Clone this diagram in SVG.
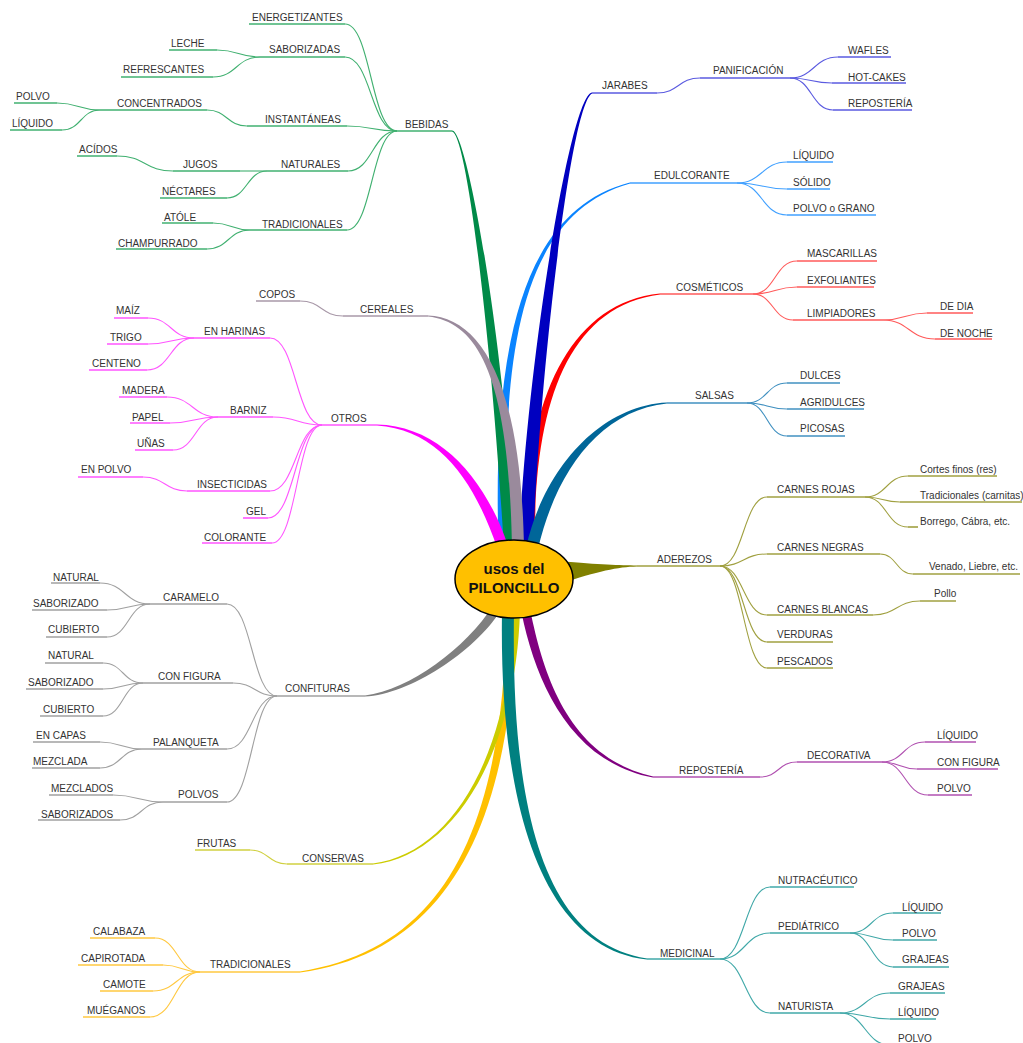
<svg xmlns="http://www.w3.org/2000/svg" width="1023" height="1043" viewBox="0 0 1023 1043">
<style>
.t{font-family:"Liberation Sans",Arial,sans-serif;font-size:10px;fill:#333}
.ul{fill:none;stroke-width:1.6}
.cn path{fill:none;stroke-width:1.1}
.beb{stroke:#40b070}.cer{stroke:#a898a8}.otr{stroke:#ff55ff}.cnf{stroke:#a0a0a0}.cns{stroke:#d0d040}.tra{stroke:#ffc840}
.jar{stroke:#5a5ae0}.edu{stroke:#40a0ff}.cos{stroke:#ff5a5a}.sal{stroke:#4090c0}.ade{stroke:#a0a040}.rep{stroke:#b050b0}.med{stroke:#40a8a8}
.ct{font-family:"Liberation Sans",Arial,sans-serif;font-size:15px;font-weight:bold;fill:#111;text-anchor:middle}
</style>
<rect width="1023" height="1043" fill="#fff"/>

<g id="trunks">
<path fill="#0a84ff" d="M507.5 548 C502.5 380 510.5 216.7 630.2 183.6 L629.8 182.4 C509.5 213.3 493.5 380 498.5 548 Z"/>
<path fill="#ff0000" d="M535 548 C533 410 565.2 306.8 660.1 294.6 L659.9 293.4 C564.8 303.2 523 410 525 548 Z"/>
<path fill="#008a48" d="M516 547.5 C502 319.5 466 128.6 452 130.4 L452 131.6 C466 133.4 490 320.5 504 548.5 Z"/>
<path fill="#0000c0" d="M533 548.3 C539 380.3 570.8 102.5 592.2 93.6 L591.8 92.4 C569.2 97.5 525 379.7 519 547.7 Z"/>
<path fill="#9a8a9c" d="M524 547.9 C521 379.9 480.2 317.6 428 315.4 L428 316.6 C479.8 322.4 509 380.1 512 548.1 Z"/>
<path fill="#ff00ff" d="M508.2 546.2 C485.2 478.2 440.1 425.8 377 424.4 L377 425.6 C439.9 430.2 474.8 481.8 497.8 549.8 Z"/>
<path fill="#006699" d="M537.9 549.4 C555.9 471.4 600.2 410.4 667 403.6 L667 402.4 C599.8 405.6 544.2 468.6 526.2 546.6 Z"/>
<path fill="#808000" d="M560 561 C600 565 620 565 637 565.5 L637 566.5 C618 567 598 571 560 584 Z"/>
<path fill="#808080" d="M493.2 605.6 C466.2 647.6 409.8 690.2 365 695.4 L365 696.6 C410.2 693.8 473.8 652.4 500.8 610.4 Z"/>
<path fill="#ffc000" d="M506.5 612 C503.5 820 449.7 948.2 299.9 971.4 L300.1 972.6 C450.3 951.8 512.5 820 515.5 612 Z"/>
<path fill="#cccc00" d="M514 611.9 C509 759.9 449.9 853.8 372.9 863.5 L373.1 864.5 C450.1 856.2 515 760.1 520 612.1 Z"/>
<path fill="#008080" d="M502 611.9 C499 799.9 539.7 947.4 646.9 959.6 L647.1 958.4 C540.3 942.6 511 800.1 514 612.1 Z"/>
<path fill="#800080" d="M521.6 612.9 C535.6 680.9 569.6 761.8 652.9 777.6 L653.1 776.4 C570.4 758.2 544.4 679.1 530.4 611.1 Z"/>
</g>

<g id="connectors" class="cn">
<g class="beb">
<path d="M345 24 C371 24 371 131 397 131"/><path d="M345 57 C371 57 371 131 397 131"/><path d="M347 126 C372 126 372 131 397 131"/>
<path d="M348 171 C372.5 171 372.5 131 397 131"/><path d="M347 230 C372 230 372 131 397 131"/>
<path d="M217 50 C238.5 50 238.5 57 260 57"/><path d="M213 77 C236.5 77 236.5 57 260 57"/>
<path d="M207 110 C227 110 227 126 247 126"/><path d="M57 103 C78.5 103 78.5 110 100 110"/><path d="M62 130 C81 130 81 110 100 110"/>
<path d="M117 156 C145 156 145 171 173 171"/><path d="M240 171 L267 171"/><path d="M227 198 C247 198 247 171 267 171"/>
<path d="M213 223 C231.5 223 231.5 230 250 230"/><path d="M207 249 C228.5 249 228.5 230 250 230"/>
</g>
<g class="cer"><path d="M300 301 C321.5 301 321.5 316 343 316"/></g>
<g class="otr">
<path d="M270 338 C296 338 296 425 322 425"/><path d="M148 318 C171 318 171 338 194 338"/><path d="M148 344 C171 344 171 338 194 338"/>
<path d="M147 370 C170.5 370 170.5 338 194 338"/><path d="M273 417 C297.5 417 297.5 425 322 425"/><path d="M167 397 C192.5 397 192.5 417 218 417"/>
<path d="M170 423 C194 423 194 417 218 417"/><path d="M173 450 C195.5 450 195.5 417 218 417"/><path d="M270 491 C296 491 296 425 322 425"/>
<path d="M143 477 C165 477 165 491 187 491"/><path d="M268 518 C295 518 295 425 322 425"/><path d="M272 543 C297 543 297 425 322 425"/>
</g>
<g class="cnf">
<path d="M227 604 C252 604 252 696 277 696"/><path d="M100 583 C125 583 125 604 150 604"/><path d="M107 610 C128.5 610 128.5 604 150 604"/>
<path d="M107 637 C128.5 637 128.5 604 150 604"/><path d="M233 683 C255 683 255 696 277 696"/><path d="M103 663 C123 663 123 683 143 683"/>
<path d="M103 689 C123 689 123 683 143 683"/><path d="M103 716 C123 716 123 683 143 683"/><path d="M227 749 C252 749 252 696 277 696"/>
<path d="M100 742 C121 742 121 749 142 749"/><path d="M100 768 C121 768 121 749 142 749"/><path d="M227 802 C252 802 252 696 277 696"/>
<path d="M113 795 C138 795 138 802 163 802"/><path d="M120 820 C141.5 820 141.5 802 163 802"/>
</g>
<g class="cns"><path d="M250 850 C268.5 850 268.5 864 287 864"/></g>
<g class="tra">
<path d="M155 938 C177.5 938 177.5 972 200 972"/><path d="M163 965 C181.5 965 181.5 972 200 972"/>
<path d="M153 991 C176.5 991 176.5 972 200 972"/><path d="M150 1017 C175 1017 175 972 200 972"/>
</g>
<g class="jar">
<path d="M657 93 C678.5 93 678.5 78 700 78"/><path d="M790 78 C814 78 814 57 838 57"/>
<path d="M790 78 C811 78 811 83 832 83"/><path d="M790 78 C811.5 78 811.5 110 833 110"/>
</g>
<g class="edu">
<path d="M737 183 C762 183 762 162 787 162"/><path d="M737 183 C762 183 762 189 787 189"/><path d="M737 183 C762 183 762 215 787 215"/>
</g>
<g class="cos">
<path d="M753 294 C775 294 775 261 797 261"/><path d="M753 294 C775 294 775 287 797 287"/><path d="M753 294 C773 294 773 320 793 320"/>
<path d="M883 320 C905 320 905 313 927 313"/><path d="M883 320 C909 320 909 339 935 339"/>
</g>
<g class="sal">
<path d="M747 403 C767 403 767 383 787 383"/><path d="M747 403 C767 403 767 409 787 409"/><path d="M747 403 C767 403 767 436 787 436"/>
</g>
<g class="ade">
<path d="M720 566 C743.5 566 743.5 497 767 497"/><path d="M720 566 C743.5 566 743.5 554 767 554"/><path d="M720 566 C743.5 566 743.5 615 767 615"/>
<path d="M720 566 C743.5 566 743.5 642 767 642"/><path d="M720 566 C743.5 566 743.5 668 767 668"/>
<path d="M865 497 C886.5 497 886.5 476 908 476"/><path d="M865 497 C882.5 497 882.5 502 900 502"/><path d="M865 497 C886.5 497 886.5 527 908 527"/>
<path d="M880 554 C896.5 554 896.5 574 913 574"/><path d="M873 615 C896.5 615 896.5 601 920 601"/>
</g>
<g class="rep">
<path d="M760 777 C778.5 777 778.5 762 797 762"/><path d="M882 762 C903.5 762 903.5 742 925 742"/>
<path d="M882 762 C899.5 762 899.5 769 917 769"/><path d="M882 762 C905 762 905 795 928 795"/>
</g>
<g class="med">
<path d="M720 959 C745 959 745 887 770 887"/><path d="M720 959 C745 959 745 933 770 933"/><path d="M720 959 C745 959 745 1013 770 1013"/>
<path d="M850 933 C871.5 933 871.5 913 893 913"/><path d="M850 933 C871.5 933 871.5 940 893 940"/><path d="M850 933 C871.5 933 871.5 967 893 967"/>
<path d="M840 1013 C865 1013 865 993 890 993"/><path d="M840 1013 C865 1013 865 1019 890 1019"/><path d="M840 1013 C865 1013 865 1045 890 1045"/>
</g>
</g>

<g id="nodes">
<g id="center"><ellipse cx="514" cy="579" rx="59" ry="39" fill="#ffc000" stroke="#000" stroke-width="1.5"/>
<text class="ct" x="514" y="574">usos del</text><text class="ct" x="514" y="593">PILONCILLO</text></g>

<g id="n-bebidas"><path class="ul beb" d="M397 131 H452"/><text class="t" x="405" y="128">BEBIDAS</text></g>
<g id="n-energetizantes"><path class="ul beb" d="M249 24 H345"/><text class="t" x="252" y="21">ENERGETIZANTES</text></g>
<g id="n-saborizadas"><path class="ul beb" d="M260 57 H345"/><text class="t" x="269" y="53">SABORIZADAS</text></g>
<g id="n-leche"><path class="ul beb" d="M169 50 H217"/><text class="t" x="171" y="47">LECHE</text></g>
<g id="n-refrescantes"><path class="ul beb" d="M121 77 H213"/><text class="t" x="123" y="73">REFRESCANTES</text></g>
<g id="n-instantaneas"><path class="ul beb" d="M247 126 H347"/><text class="t" x="265" y="123">INSTANTÁNEAS</text></g>
<g id="n-concentrados"><path class="ul beb" d="M100 110 H207"/><text class="t" x="117" y="107">CONCENTRADOS</text></g>
<g id="n-polvo1"><path class="ul beb" d="M14 103 H57"/><text class="t" x="16" y="100">POLVO</text></g>
<g id="n-liquido1"><path class="ul beb" d="M10 130 H62"/><text class="t" x="12" y="127">LÍQUIDO</text></g>
<g id="n-naturales"><path class="ul beb" d="M267 171 H348"/><text class="t" x="281" y="168">NATURALES</text></g>
<g id="n-jugos"><path class="ul beb" d="M173 171 H240"/><text class="t" x="183" y="168">JUGOS</text></g>
<g id="n-acidos"><path class="ul beb" d="M77 156 H117"/><text class="t" x="79" y="153">ACÍDOS</text></g>
<g id="n-nectares"><path class="ul beb" d="M160 198 H227"/><text class="t" x="162" y="195">NÉCTARES</text></g>
<g id="n-tradicionales1"><path class="ul beb" d="M250 230 H347"/><text class="t" x="262" y="228">TRADICIONALES</text></g>
<g id="n-atole"><path class="ul beb" d="M162 223 H213"/><text class="t" x="164" y="221">ATÓLE</text></g>
<g id="n-champurrado"><path class="ul beb" d="M116 249 H207"/><text class="t" x="118" y="247">CHAMPURRADO</text></g>

<g id="n-cereales"><path class="ul cer" d="M343 316 H428"/><text class="t" x="360" y="313">CEREALES</text></g>
<g id="n-copos"><path class="ul cer" d="M256 301 H300"/><text class="t" x="259" y="298">COPOS</text></g>

<g id="n-otros"><path class="ul otr" d="M322 425 H377"/><text class="t" x="331" y="422">OTROS</text></g>
<g id="n-enharinas"><path class="ul otr" d="M194 338 H270"/><text class="t" x="204" y="335">EN HARINAS</text></g>
<g id="n-maiz"><path class="ul otr" d="M114 318 H148"/><text class="t" x="116" y="314">MAÍZ</text></g>
<g id="n-trigo"><path class="ul otr" d="M107 344 H148"/><text class="t" x="110" y="341">TRIGO</text></g>
<g id="n-centeno"><path class="ul otr" d="M89 370 H147"/><text class="t" x="92" y="367">CENTENO</text></g>
<g id="n-barniz"><path class="ul otr" d="M218 417 H273"/><text class="t" x="230" y="414">BARNIZ</text></g>
<g id="n-madera"><path class="ul otr" d="M119 397 H167"/><text class="t" x="122" y="394">MADERA</text></g>
<g id="n-papel"><path class="ul otr" d="M130 423 H170"/><text class="t" x="132" y="421">PAPEL</text></g>
<g id="n-unas"><path class="ul otr" d="M135 450 H173"/><text class="t" x="137" y="447">UÑAS</text></g>
<g id="n-insecticidas"><path class="ul otr" d="M187 491 H270"/><text class="t" x="197" y="488">INSECTICIDAS</text></g>
<g id="n-enpolvo"><path class="ul otr" d="M78 477 H143"/><text class="t" x="81" y="473">EN POLVO</text></g>
<g id="n-gel"><path class="ul otr" d="M243 518 H268"/><text class="t" x="246" y="515">GEL</text></g>
<g id="n-colorante"><path class="ul otr" d="M202 543 H272"/><text class="t" x="204" y="541">COLORANTE</text></g>

<g id="n-confituras"><path class="ul cnf" d="M277 696 H365"/><text class="t" x="285" y="692">CONFITURAS</text></g>
<g id="n-caramelo"><path class="ul cnf" d="M150 604 H227"/><text class="t" x="163" y="601">CARAMELO</text></g>
<g id="n-natural1"><path class="ul cnf" d="M51 583 H100"/><text class="t" x="53" y="581">NATURAL</text></g>
<g id="n-saborizado1"><path class="ul cnf" d="M32 610 H107"/><text class="t" x="33" y="607">SABORIZADO</text></g>
<g id="n-cubierto1"><path class="ul cnf" d="M46 637 H107"/><text class="t" x="48" y="633">CUBIERTO</text></g>
<g id="n-configura1"><path class="ul cnf" d="M143 683 H233"/><text class="t" x="158" y="680">CON FIGURA</text></g>
<g id="n-natural2"><path class="ul cnf" d="M45 663 H103"/><text class="t" x="48" y="659">NATURAL</text></g>
<g id="n-saborizado2"><path class="ul cnf" d="M26 689 H103"/><text class="t" x="28" y="686">SABORIZADO</text></g>
<g id="n-cubierto2"><path class="ul cnf" d="M40 716 H103"/><text class="t" x="43" y="713">CUBIERTO</text></g>
<g id="n-palanqueta"><path class="ul cnf" d="M142 749 H227"/><text class="t" x="153" y="746">PALANQUETA</text></g>
<g id="n-encapas"><path class="ul cnf" d="M33 742 H100"/><text class="t" x="36" y="739">EN CAPAS</text></g>
<g id="n-mezclada"><path class="ul cnf" d="M32 768 H100"/><text class="t" x="33" y="765">MEZCLADA</text></g>
<g id="n-polvos"><path class="ul cnf" d="M163 802 H227"/><text class="t" x="178" y="798">POLVOS</text></g>
<g id="n-mezclados"><path class="ul cnf" d="M49 795 H113"/><text class="t" x="51" y="792">MEZCLADOS</text></g>
<g id="n-saborizados"><path class="ul cnf" d="M38 820 H120"/><text class="t" x="41" y="818">SABORIZADOS</text></g>

<g id="n-conservas"><path class="ul cns" d="M287 864 H373"/><text class="t" x="302" y="862">CONSERVAS</text></g>
<g id="n-frutas"><path class="ul cns" d="M195 850 H250"/><text class="t" x="197" y="847">FRUTAS</text></g>

<g id="n-tradicionales2"><path class="ul tra" d="M200 972 H300"/><text class="t" x="210" y="968">TRADICIONALES</text></g>
<g id="n-calabaza"><path class="ul tra" d="M90 938 H155"/><text class="t" x="93" y="935">CALABAZA</text></g>
<g id="n-capirotada"><path class="ul tra" d="M78 965 H163"/><text class="t" x="81" y="962">CAPIROTADA</text></g>
<g id="n-camote"><path class="ul tra" d="M100 991 H153"/><text class="t" x="103" y="988">CAMOTE</text></g>
<g id="n-mueganos"><path class="ul tra" d="M83 1017 H150"/><text class="t" x="87" y="1014">MUÉGANOS</text></g>

<g id="n-jarabes"><path class="ul jar" d="M592 93 H657"/><text class="t" x="602" y="89">JARABES</text></g>
<g id="n-panificacion"><path class="ul jar" d="M700 78 H790"/><text class="t" x="713" y="74">PANIFICACIÓN</text></g>
<g id="n-wafles"><path class="ul jar" d="M838 57 H891"/><text class="t" x="848" y="54">WAFLES</text></g>
<g id="n-hotcakes"><path class="ul jar" d="M832 83 H906"/><text class="t" x="848" y="81">HOT-CAKES</text></g>
<g id="n-reposteria1"><path class="ul jar" d="M833 110 H912"/><text class="t" x="848" y="107">REPOSTERÍA</text></g>

<g id="n-edulcorante"><path class="ul edu" d="M630 183 H737"/><text class="t" x="654" y="179">EDULCORANTE</text></g>
<g id="n-liquido2"><path class="ul edu" d="M787 162 H833"/><text class="t" x="793" y="159">LÍQUIDO</text></g>
<g id="n-solido"><path class="ul edu" d="M787 189 H830"/><text class="t" x="793" y="186">SÓLIDO</text></g>
<g id="n-polvograno"><path class="ul edu" d="M787 215 H876"/><text class="t" x="793" y="212">POLVO o GRANO</text></g>

<g id="n-cosmeticos"><path class="ul cos" d="M660 294 H753"/><text class="t" x="676" y="291">COSMÉTICOS</text></g>
<g id="n-mascarillas"><path class="ul cos" d="M797 261 H877"/><text class="t" x="807" y="257">MASCARILLAS</text></g>
<g id="n-exfoliantes"><path class="ul cos" d="M797 287 H874"/><text class="t" x="807" y="284">EXFOLIANTES</text></g>
<g id="n-limpiadores"><path class="ul cos" d="M793 320 H883"/><text class="t" x="807" y="317">LIMPIADORES</text></g>
<g id="n-dedia"><path class="ul cos" d="M927 313 H973"/><text class="t" x="940" y="310">DE DIA</text></g>
<g id="n-denoche"><path class="ul cos" d="M935 339 H992"/><text class="t" x="940" y="337">DE NOCHE</text></g>

<g id="n-salsas"><path class="ul sal" d="M667 403 H747"/><text class="t" x="695" y="399">SALSAS</text></g>
<g id="n-dulces"><path class="ul sal" d="M787 383 H840"/><text class="t" x="800" y="379">DULCES</text></g>
<g id="n-agridulces"><path class="ul sal" d="M787 409 H864"/><text class="t" x="800" y="406">AGRIDULCES</text></g>
<g id="n-picosas"><path class="ul sal" d="M787 436 H845"/><text class="t" x="800" y="432">PICOSAS</text></g>

<g id="n-aderezos"><path class="ul ade" d="M637 566 H720"/><text class="t" x="657" y="563">ADEREZOS</text></g>
<g id="n-carnesrojas"><path class="ul ade" d="M767 497 H865"/><text class="t" x="777" y="493">CARNES ROJAS</text></g>
<g id="n-cortes"><path class="ul ade" d="M908 476 H997"/><text class="t" x="920" y="473">Cortes finos (res)</text></g>
<g id="n-carnitas"><path class="ul ade" d="M900 502 H1022"/><text class="t" x="920" y="499">Tradicionales (carnitas)</text></g>
<g id="n-borrego"><path class="ul ade" d="M908 527 H918"/><text class="t" x="920" y="525">Borrego, Cábra, etc.</text></g>
<g id="n-carnesnegras"><path class="ul ade" d="M767 554 H880"/><text class="t" x="777" y="551">CARNES NEGRAS</text></g>
<g id="n-venado"><path class="ul ade" d="M913 574 H1020"/><text class="t" x="929" y="570">Venado, Liebre, etc.</text></g>
<g id="n-carnesblancas"><path class="ul ade" d="M767 615 H873"/><text class="t" x="777" y="613">CARNES BLANCAS</text></g>
<g id="n-pollo"><path class="ul ade" d="M920 601 H956"/><text class="t" x="934" y="597">Pollo</text></g>
<g id="n-verduras"><path class="ul ade" d="M767 642 H833"/><text class="t" x="777" y="638">VERDURAS</text></g>
<g id="n-pescados"><path class="ul ade" d="M767 668 H833"/><text class="t" x="777" y="665">PESCADOS</text></g>

<g id="n-reposteria2"><path class="ul rep" d="M653 777 H760"/><text class="t" x="679" y="774">REPOSTERÍA</text></g>
<g id="n-decorativa"><path class="ul rep" d="M797 762 H882"/><text class="t" x="807" y="759">DECORATIVA</text></g>
<g id="n-liquido3"><path class="ul rep" d="M925 742 H976"/><text class="t" x="937" y="739">LÍQUIDO</text></g>
<g id="n-configura2"><path class="ul rep" d="M917 769 H998"/><text class="t" x="937" y="766">CON FIGURA</text></g>
<g id="n-polvo3"><path class="ul rep" d="M928 795 H972"/><text class="t" x="937" y="792">POLVO</text></g>

<g id="n-medicinal"><path class="ul med" d="M647 959 H720"/><text class="t" x="660" y="957">MEDICINAL</text></g>
<g id="n-nutraceutico"><path class="ul med" d="M770 887 H854"/><text class="t" x="778" y="884">NUTRACÉUTICO</text></g>
<g id="n-pediatrico"><path class="ul med" d="M770 933 H850"/><text class="t" x="778" y="930">PEDIÁTRICO</text></g>
<g id="n-liquido4"><path class="ul med" d="M893 913 H941"/><text class="t" x="902" y="911">LÍQUIDO</text></g>
<g id="n-polvo4"><path class="ul med" d="M893 940 H937"/><text class="t" x="902" y="937">POLVO</text></g>
<g id="n-grajeas1"><path class="ul med" d="M893 967 H949"/><text class="t" x="902" y="963">GRAJEAS</text></g>
<g id="n-naturista"><path class="ul med" d="M770 1013 H840"/><text class="t" x="778" y="1010">NATURISTA</text></g>
<g id="n-grajeas2"><path class="ul med" d="M890 993 H945"/><text class="t" x="898" y="990">GRAJEAS</text></g>
<g id="n-liquido5"><path class="ul med" d="M890 1019 H936"/><text class="t" x="898" y="1016">LÍQUIDO</text></g>
<g id="n-polvo5"><path class="ul med" d="M890 1045 H932"/><text class="t" x="898" y="1042">POLVO</text></g>
</g>
</svg>
